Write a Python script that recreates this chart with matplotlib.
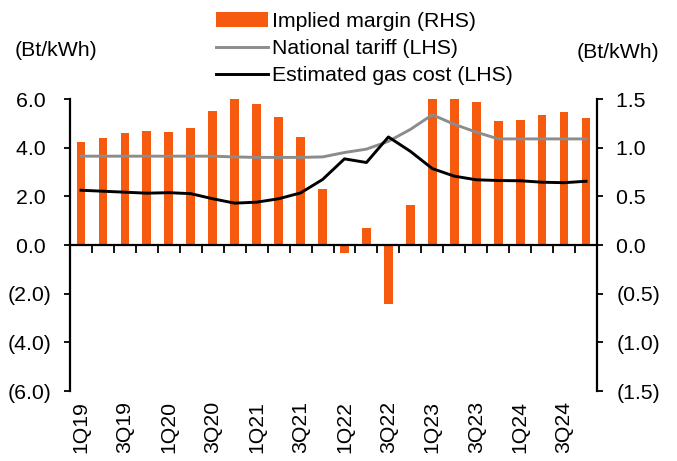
import numpy as np
import matplotlib
matplotlib.use("Agg")
from matplotlib import pyplot as plt

plt.rcParams['font.family'] = ['Liberation Sans', 'DejaVu Sans']
plt.rcParams['font.size'] = 15.3

# quarters 1Q19 .. 4Q24
quarters = [f"{q}Q{y}" for y in range(19, 25) for q in range(1, 5)]

# implied margin, Bt/kWh (RHS)
margin = [1.06, 1.10, 1.15, 1.17, 1.16, 1.20, 1.38, 1.55, 1.45, 1.32, 1.11, 0.58,
          -0.08, 0.17, -0.61, 0.41, 1.55, 1.52, 1.47, 1.27, 1.28, 1.34, 1.37, 1.30]

# national tariff, Bt/kWh (LHS)
tariff = [3.65, 3.65, 3.65, 3.65, 3.65, 3.65, 3.65, 3.62, 3.60, 3.60, 3.60, 3.62,
          3.80, 3.94, 4.26, 4.75, 5.35, 4.96, 4.64, 4.36, 4.36, 4.36, 4.36, 4.36]

# estimated gas cost, Bt/kWh (LHS)
gas_cost = [2.25, 2.21, 2.17, 2.13, 2.15, 2.11, 1.90, 1.72, 1.76, 1.90, 2.14, 2.69,
            3.54, 3.39, 4.44, 3.85, 3.14, 2.83, 2.68, 2.65, 2.64, 2.58, 2.56, 2.62]

left_ticks = [6, 4, 2, 0, -2, -4, -6]
right_ticks = [1.5, 1.0, 0.5, 0.0, -0.5, -1.0, -1.5]


def fmt(v, d=1):
    # accounting style: negatives in brackets, positives padded
    if v < 0:
        return f"({abs(v):.{d}f})"
    return f"{v:.{d}f} "


fig = plt.figure(figsize=(6.77, 4.61), dpi=100)
ax = fig.add_axes([70 / 677, 70 / 461, 527 / 677, 292 / 461])
ax2 = ax.twinx()

x = np.arange(len(quarters))

bars = ax2.bar(x, margin, width=0.4, color='#F55A0F')
ax2.set_ylim(-1.5, 1.5)
ax2.set_yticks(right_ticks)
ax2.set_yticklabels([fmt(v) for v in right_ticks])

l1, = ax.plot(x, tariff, color='#8C8C8C', lw=2.1)
l2, = ax.plot(x, gas_cost, color='black', lw=2.1)
ax.set_ylim(-6, 6)
ax.set_yticks(left_ticks)
ax.set_yticklabels([fmt(v) for v in left_ticks])
ax.set_xlim(-0.5, len(quarters) - 0.5)

# lines above bars
ax.set_zorder(ax2.get_zorder() + 1)
ax.patch.set_visible(False)

for a in (ax, ax2):
    a.spines['top'].set_visible(False)
    a.spines['bottom'].set_visible(False)
    a.spines['left'].set_linewidth(1.6)
    a.spines['right'].set_linewidth(1.6)
    a.tick_params(axis='y', length=4, width=1.3, direction='out')
ax.spines['right'].set_visible(False)
ax2.spines['left'].set_visible(False)
ax.tick_params(axis='y', pad=9)
ax2.tick_params(axis='y', pad=10)

# category labels at the bottom
ax.set_xticks(x[::2])
ax.set_xticklabels(quarters[::2], rotation=90)
ax.tick_params(axis='x', length=0, pad=7)

# zero line with ticks between quarters
zero = ax.secondary_xaxis(0.5)
zero.set_xticks(x[:-1] + 0.5)
zero.set_xticklabels([])
zero.tick_params(axis='x', length=6, width=1.3, direction='in')
zero.spines['bottom'].set_linewidth(1.6)
zero.spines['top'].set_linewidth(1.6)

fig.text(15 / 677, 1 - 51 / 461, '(Bt/kWh)', va='center', ha='left')
fig.text(659 / 677, 1 - 53 / 461, '(Bt/kWh)', va='center', ha='right')

fig.legend([bars, l1, l2],
           ['Implied margin (RHS)', 'National tariff (LHS)', 'Estimated gas cost (LHS)'],
           loc='upper left', bbox_to_anchor=(216 / 677, 1 - 12 / 461),
           frameon=False, handlelength=2.45, handletextpad=0.2,
           labelspacing=0.38, borderaxespad=0, borderpad=0)

fig.savefig('out.png', dpi=100)
